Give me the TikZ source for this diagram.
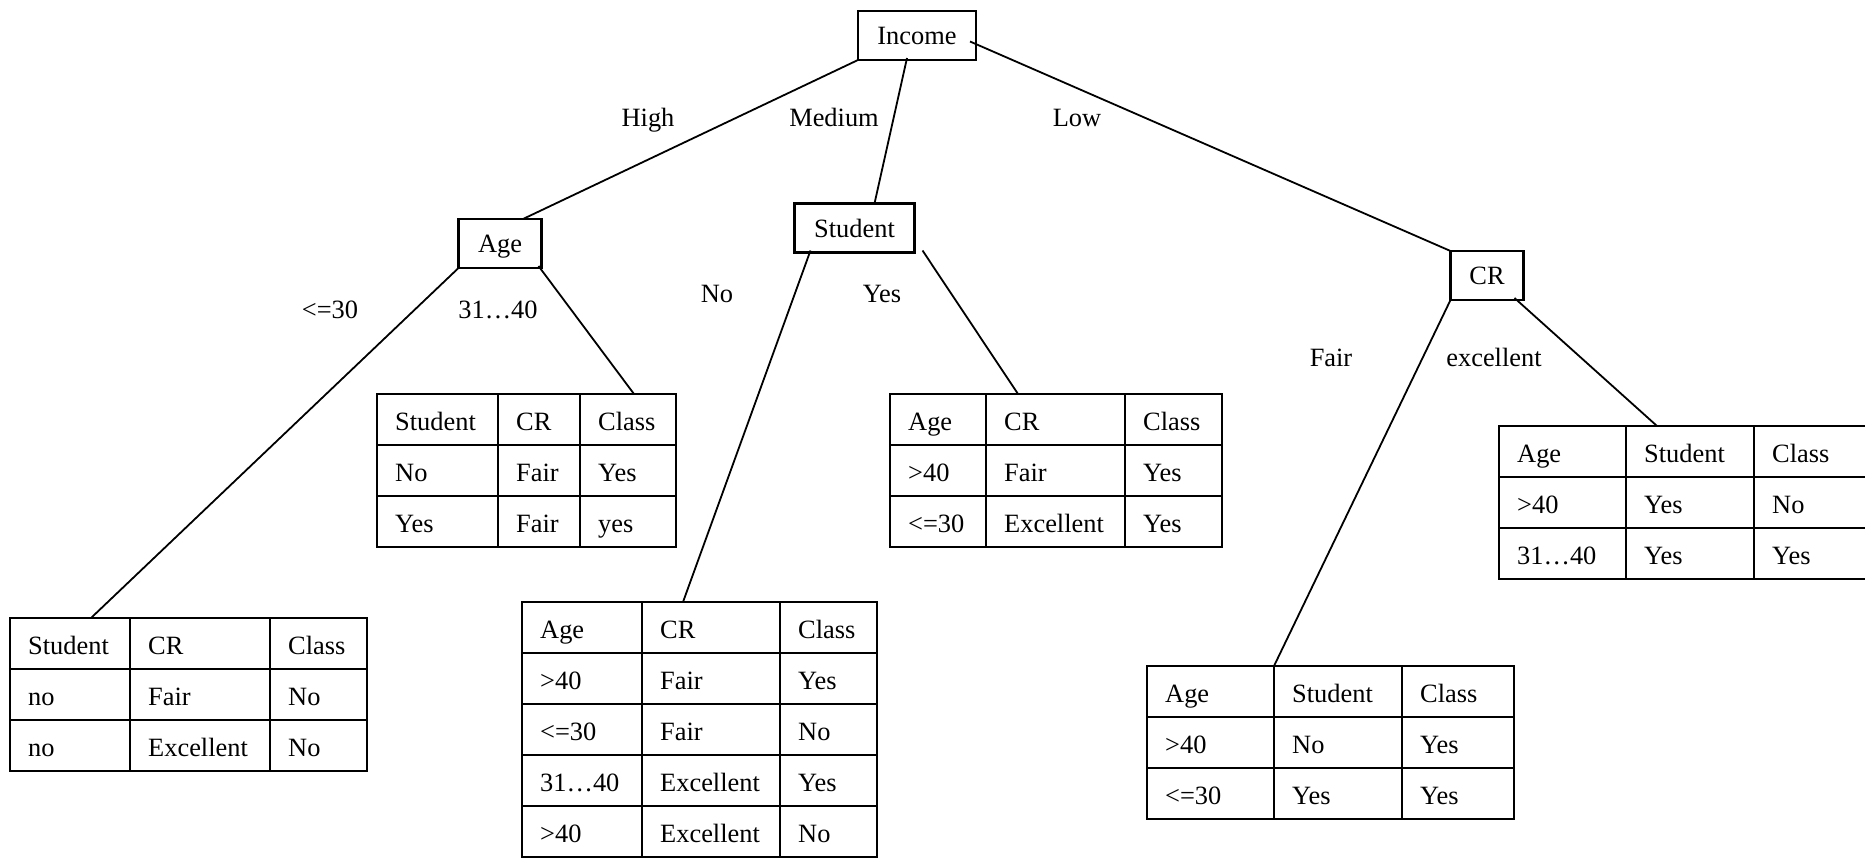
\documentclass[tikz,border=0pt]{standalone}
\usepackage{fontspec}
\setmainfont{Liberation Serif}

% A data table: #1 name, #2-#5 x of the four column lines, #6 top edge,
% #7 number of rows, #8 rows written as a/b/c
\newcommand\datatable[8]{%
  \node[tablebox, minimum width={#5-#2}, minimum height={#7*51}]
    (#1) at ({(#2+#5)/2},{#6+#7*25.5}) {};
  \draw[gridline] (#3,#6) -- ++(0,{#7*51});
  \draw[gridline] (#4,#6) -- ++(0,{#7*51});
  \foreach \k in {2,...,#7} {
    \draw[gridline] (#2,{#6+(\k-1)*51}) -- (#5,{#6+(\k-1)*51});
  }
  \foreach [count=\r] \a/\b/\c in {#8} {
    \node[cell] at ({#2+18},{#6+(\r-0.5)*51+10.5}) {\a};
    \node[cell] at ({#3+18},{#6+(\r-0.5)*51+10.5}) {\b};
    \node[cell] at ({#4+18},{#6+(\r-0.5)*51+10.5}) {\c};
  }
}

\begin{document}
\begin{tikzpicture}[x=1pt,y=-1pt,
  font=\fontsize{26.4}{30}\selectfont,
  attr/.style={draw, line width=2.6pt, rectangle, inner sep=0pt, outer sep=0pt,
    text height=19pt, text depth=0pt},
  tablebox/.style={draw, line width=2.6pt, rectangle, inner sep=0pt, outer sep=0pt},
  gridline/.style={line width=2.6pt},
  edge/.style={line width=1.8pt},
  cell/.style={anchor=base west, inner sep=0pt},
  branch/.style={anchor=base, inner sep=0pt}]

\useasboundingbox (0,0) rectangle (1865,858);
\clip (0,0) rectangle (1865,858);

% attribute tests
\node[attr, minimum width=118, minimum height=49] (income) at (917,35.5) {Income};
\node[attr, minimum width=83, minimum height=49] (age) at (500,243.5) {Age};
\node[attr, minimum width=120, minimum height=49] (student) at (854.5,228) {Student};
\node[attr, minimum width=73, minimum height=49] (cr) at (1487,275.5) {CR};

% leaf tables
\datatable{t1}{10}{130}{270}{367}{618}{3}{Student/CR/Class, no/Fair/No, no/Excellent/No}
\datatable{t2}{377}{498}{580}{676}{394}{3}{Student/CR/Class, No/Fair/Yes, Yes/Fair/yes}
\datatable{t3}{522}{642}{780}{877}{602}{5}{Age/CR/Class, >40/Fair/Yes, <=30/Fair/No, 31…40/Excellent/Yes, >40/Excellent/No}
\datatable{t4}{890}{986}{1125}{1222}{394}{3}{Age/CR/Class, >40/Fair/Yes, <=30/Excellent/Yes}
\datatable{t5}{1147}{1274}{1402}{1514}{666}{3}{Age/Student/Class, >40/No/Yes, <=30/Yes/Yes}
\datatable{t6}{1499}{1626}{1754}{1881}{426}{3}{Age/Student/Class, >40/Yes/No, 31…40/Yes/Yes}

% branches
\draw[edge] (income.south west) -- ([xshift=23pt]age.north);
\draw[edge] ([xshift=-10pt,yshift=2pt]income.south) -- ([xshift=20pt]student.north);
\draw[edge] ([xshift=-6pt,yshift=-6pt]income.east) -- (cr.north west);
\draw[edge] (age.south west) -- ([xshift=81pt]t1.north west);
\draw[edge] ([xshift=-3pt,yshift=2pt]age.south east) -- ([xshift=257pt]t2.north west);
\draw[edge] ([xshift=16pt,yshift=2pt]student.south west) -- ([xshift=161pt]t3.north west);
\draw[edge] ([xshift=8pt,yshift=2pt]student.south east) -- ([xshift=128pt]t4.north west);
\draw[edge] (cr.south west) -- ([xshift=127pt]t5.north west);
\draw[edge] ([xshift=-9pt,yshift=2pt]cr.south east) -- ([xshift=158pt]t6.north west);

% branch values
\node[branch] (lhigh) at (648,126.5) {High};
\node[branch] (lmed) at (834,126.5) {Medium};
\node[branch] (llow) at (1077,126.5) {Low};
\node[branch] (lyoung) at (330,318.5) {<=30};
\node[branch] (lmid) at (498,318.5) {31…40};
\node[branch] (lno) at (717,302.5) {No};
\node[branch] (lyes) at (882,302.5) {Yes};
\node[branch] (lfair) at (1331,366.5) {Fair};
\node[branch] (lexc) at (1494,366.5) {excellent};
\end{tikzpicture}
\end{document}
